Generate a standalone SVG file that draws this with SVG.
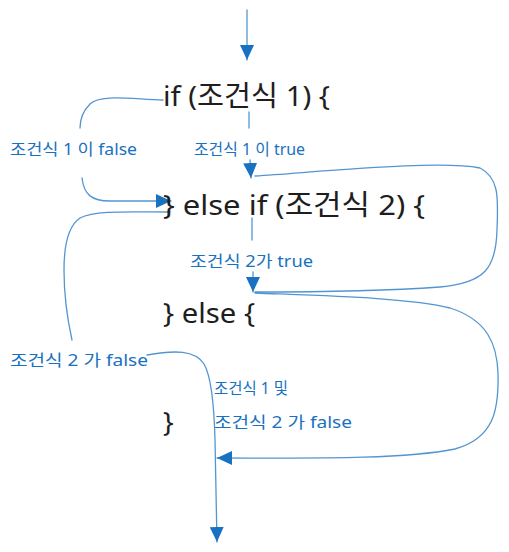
<svg xmlns="http://www.w3.org/2000/svg" width="509" height="552" viewBox="0 0 509 552">
<style>
.code{font-family:"Noto Sans","Noto Sans CJK KR",sans-serif;font-size:28px;fill:#1e1e1e}
.lbl{font-family:"Noto Sans","Noto Sans CJK KR",sans-serif;font-size:16px;fill:#1971c2}
.c{fill:none;stroke:#1971c2;stroke-opacity:0.75;stroke-width:1.3;stroke-linecap:round}
</style>
<defs>
<marker id="ah" markerUnits="userSpaceOnUse" markerWidth="16" markerHeight="14" refX="15" refY="7" orient="auto">
<path d="M0,0 L15,7 L0,14 z" fill="#1971c2"/>
</marker>
</defs>
<rect width="509" height="552" fill="#ffffff"/>
<g id="connectors">
<path class="c" d="M247,10 L247,60" marker-end="url(#ah)"/>
<path class="c" d="M163,100 C130,99 100,94 90,104 C82,112 80,122 80,128"/>
<path class="c" d="M82,178 C84,195 92,201 110,201 L171,201" marker-end="url(#ah)"/>
<path class="c" d="M249,112 L249,128"/>
<path class="c" d="M250,160 L251,178" marker-end="url(#ah)"/>
<path class="c" d="M255,176 C330,171 440,160 480,168 C500,178 498,200 497,230 C496,268 485,283 440,287 C370,292 290,292 255,292"/>
<path class="c" d="M252,218 L252,240"/>
<path class="c" d="M253,272 L253,292" marker-end="url(#ah)"/>
<path class="c" d="M255,293 C330,296 410,298 450,308 C488,320 497,345 498,373 C499,410 494,438 455,449 C400,460 300,458 217,458" marker-end="url(#ah)"/>
<path class="c" d="M170,212 C130,212 95,210 80,218 C68,226 64,245 64,270 C64,300 68,322 72,340"/>
<path class="c" d="M147,355 C175,350 195,350 204,364 C211,376 214,400 215,440 L217,542" marker-end="url(#ah)"/>
</g>
<g id="node-if"><text class="code" x="163" y="106" textLength="167" lengthAdjust="spacingAndGlyphs">if (조건식 1) {</text></g>
<g id="node-elseif"><text class="code" x="163" y="215" textLength="262" lengthAdjust="spacingAndGlyphs">} else if (조건식 2) {</text></g>
<g id="node-else"><text class="code" x="163" y="323" textLength="92" lengthAdjust="spacingAndGlyphs">} else {</text></g>
<g id="node-end"><text class="code" x="163" y="432">}</text></g>
<g id="label-1false"><text class="lbl" x="10" y="155" textLength="127" lengthAdjust="spacingAndGlyphs">조건식 1 이 false</text></g>
<g id="label-1true"><text class="lbl" x="194" y="155" textLength="111" lengthAdjust="spacingAndGlyphs">조건식 1 이 true</text></g>
<g id="label-2true"><text class="lbl" x="190" y="267" textLength="123" lengthAdjust="spacingAndGlyphs">조건식 2가 true</text></g>
<g id="label-2false"><text class="lbl" x="10" y="366" textLength="138" lengthAdjust="spacingAndGlyphs">조건식 2 가 false</text></g>
<g id="label-both"><text class="lbl" x="214" y="394" textLength="74" lengthAdjust="spacingAndGlyphs">조건식 1 및</text><text class="lbl" x="214" y="428" textLength="138" lengthAdjust="spacingAndGlyphs">조건식 2 가 false</text></g>
</svg>
